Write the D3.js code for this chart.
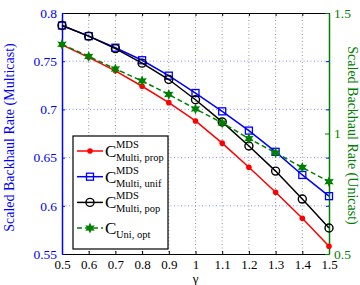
<!DOCTYPE html>
<html>
<head>
<meta charset="utf-8">
<script src="https://cdn.jsdelivr.net/npm/d3@7"></script>
<style>
  body { margin: 0; background: #fff; }
  text { font-family: "Liberation Serif", "DejaVu Serif", serif; }
</style>
</head>
<body>
<div class="chart"></div>
<script>
// gamma values on the x axis
var gammas = [0.5, 0.6, 0.7, 0.8, 0.9, 1.0, 1.1, 1.2, 1.3, 1.4, 1.5];

// multicast series (left axis)
var multiProp = [0.767, 0.754, 0.740, 0.724, 0.707, 0.688, 0.665, 0.640, 0.614, 0.587, 0.558];
var multiUnif = [0.787, 0.776, 0.764, 0.751, 0.735, 0.717, 0.698, 0.678, 0.656, 0.632, 0.610];
var multiPop  = [0.787, 0.776, 0.763, 0.748, 0.731, 0.710, 0.687, 0.662, 0.636, 0.607, 0.577];

// unicast series (right axis)
var uniOpt = [1.370, 1.320, 1.268, 1.218, 1.162, 1.102, 1.044, 0.979, 0.920, 0.859, 0.800];

var xTicks = [0.5, 0.6, 0.7, 0.8, 0.9, 1, 1.1, 1.2, 1.3, 1.4, 1.5];
var yLeftTicks = [0.55, 0.6, 0.65, 0.7, 0.75, 0.8];
var yRightTicks = [0.5, 1, 1.5];

var margin = { top: 13, right: 31, bottom: 31, left: 62 }, W = 360, H = 285;
var width = W - margin.left - margin.right, height = H - margin.top - margin.bottom;

var BLUE = "#0000ff", GREEN = "#008000", RED = "#ff0000";

var svg = d3.select(".chart").append("svg")
  .attr("width", W)
  .attr("height", H);

var g = svg.append("g").attr("transform", "translate(" + margin.left + "," + margin.top + ")");

var x = d3.scaleLinear().domain([0.5, 1.5]).range([0, width]);
var yL = d3.scaleLinear().domain([0.55, 0.8]).range([height, 0]);
var yR = d3.scaleLinear().domain([0.5, 1.5]).range([height, 0]);

// grid
g.append("g").selectAll("line")
  .data(xTicks.slice(1, -1))
  .enter().append("line")
    .attr("x1", d => x(d)).attr("x2", d => x(d))
    .attr("y1", 0).attr("y2", height)
    .attr("stroke", "#777").attr("stroke-width", 0.8)
    .attr("stroke-dasharray", "1,2.5");

g.append("g").selectAll("line")
  .data(yLeftTicks.slice(1, -1))
  .enter().append("line")
    .attr("x1", 0).attr("x2", width)
    .attr("y1", d => yL(d)).attr("y2", d => yL(d))
    .attr("stroke", "#6f6fff").attr("stroke-width", 0.8)
    .attr("stroke-dasharray", "1,2.5");

// axes
var xAxisB = d3.axisBottom(x).tickValues(xTicks).tickSizeInner(-3).tickSizeOuter(0)
  .tickPadding(6).tickFormat(d3.format("~g"));
var gx = g.append("g").attr("transform", "translate(0," + height + ")").call(xAxisB);
gx.select(".domain").attr("stroke", "#000").attr("stroke-width", 1.2);
gx.selectAll("text").attr("font-size", 13).attr("fill", "#000");

var gxt = g.append("g").call(d3.axisTop(x).tickValues(xTicks).tickSizeInner(-3).tickSizeOuter(0).tickFormat(""));
gxt.select(".domain").attr("stroke", "#000").attr("stroke-width", 1.2);

var gyl = g.append("g").call(d3.axisLeft(yL).tickValues(yLeftTicks).tickSizeInner(-3).tickSizeOuter(0)
  .tickPadding(5).tickFormat(d3.format("~g")));
gyl.select(".domain").attr("stroke", BLUE).attr("stroke-width", 1.5);
gyl.selectAll("line").attr("stroke", BLUE);
gyl.selectAll("text").attr("font-size", 13.5).attr("fill", BLUE);

var gylr = g.append("g").attr("transform", "translate(" + width + ",0)")
  .call(d3.axisRight(yL).tickValues(yLeftTicks).tickSizeInner(-3).tickSizeOuter(0).tickFormat(""));
gylr.select(".domain").remove();
gylr.selectAll("line").attr("stroke", BLUE);

var gyr = g.append("g").attr("transform", "translate(" + width + ",0)")
  .call(d3.axisRight(yR).tickValues(yRightTicks).tickSizeInner(-4).tickSizeOuter(0)
    .tickPadding(5).tickFormat(d3.format("~g")));
gyr.select(".domain").attr("stroke", GREEN).attr("stroke-width", 1.5);
gyr.selectAll("line").attr("stroke", GREEN);
gyr.selectAll("text").attr("font-size", 13.5).attr("fill", GREEN);

// axis labels
svg.append("text")
  .attr("transform", "translate(14," + (margin.top + height / 2 + 4) + ") rotate(-90)")
  .attr("text-anchor", "middle")
  .attr("font-size", 14)
  .attr("fill", BLUE)
  .text("Scaled Backhaul Rate (Multicast)");

svg.append("text")
  .attr("transform", "translate(348," + (margin.top + height / 2 + 2) + ") rotate(90)")
  .attr("text-anchor", "middle")
  .attr("font-size", 14)
  .attr("fill", GREEN)
  .text("Scaled Backhaul Rate (Unicast)");

svg.append("text")
  .attr("x", margin.left + width / 2)
  .attr("y", 283)
  .attr("text-anchor", "middle")
  .attr("font-size", 13)
  .text("γ");

// markers
function hexagram(r) {
  var pts = [];
  for (var i = 0; i < 12; i++) {
    var a = Math.PI / 2 + i * Math.PI / 6;
    var rr = i % 2 === 0 ? r : r * 0.5;
    pts.push([rr * Math.cos(a), -rr * Math.sin(a)]);
  }
  return "M" + pts.join("L") + "Z";
}

function drawMarker(sel, type, color) {
  if (type === "dot") {
    sel.append("circle").attr("r", 2.8).attr("fill", color);
  } else if (type === "square") {
    sel.append("rect").attr("x", -3.5).attr("y", -3.5).attr("width", 7).attr("height", 7)
      .attr("fill", "none").attr("stroke", color).attr("stroke-width", 1.3);
  } else if (type === "circle") {
    sel.append("circle").attr("r", 4).attr("fill", "none").attr("stroke", color).attr("stroke-width", 1.4);
  } else {
    sel.append("path").attr("d", hexagram(5.5)).attr("fill", color);
  }
}

var series = [
  { vals: multiProp, y: yL, color: RED, marker: "dot", dash: null, sub: "Multi, prop", sup: "MDS" },
  { vals: multiUnif, y: yL, color: BLUE, marker: "square", dash: null, sub: "Multi, unif", sup: "MDS" },
  { vals: multiPop, y: yL, color: "#000", marker: "circle", dash: null, sub: "Multi, pop", sup: "MDS" },
  { vals: uniOpt, y: yR, color: GREEN, marker: "star", dash: "5,3", sub: "Uni, opt", sup: null }
];

series.forEach(function(s) {
  var line = d3.line().x((d, i) => x(gammas[i])).y(d => s.y(d));
  g.append("path")
    .datum(s.vals)
    .attr("d", line)
    .attr("fill", "none")
    .attr("stroke", s.color)
    .attr("stroke-width", 1.5)
    .attr("stroke-dasharray", s.dash);
  s.vals.forEach(function(v, i) {
    var m = g.append("g").attr("transform", "translate(" + x(gammas[i]) + "," + s.y(v) + ")");
    drawMarker(m, s.marker, s.color);
  });
});

// legend
var lg = svg.append("g").attr("transform", "translate(73,136)");
lg.append("rect").attr("width", 95).attr("height", 113)
  .attr("fill", "#fff").attr("stroke", "#000").attr("stroke-width", 1.2);

series.forEach(function(s, i) {
  var row = lg.append("g").attr("transform", "translate(0," + (15 + i * 25.7) + ")");
  row.append("line").attr("x1", 4).attr("x2", 30).attr("y1", 0).attr("y2", 0)
    .attr("stroke", s.color).attr("stroke-width", 1.5).attr("stroke-dasharray", s.dash);
  drawMarker(row.append("g").attr("transform", "translate(17,0)"), s.marker, s.color);
  row.append("text").attr("x", 32).attr("y", 6).attr("font-size", 17).text("C");
  if (s.sup) row.append("text").attr("x", 43).attr("y", -3).attr("font-size", 10.5).text(s.sup);
  row.append("text").attr("x", 43).attr("y", 10).attr("font-size", 10.5).text(s.sub);
});
</script>
</body>
</html>
